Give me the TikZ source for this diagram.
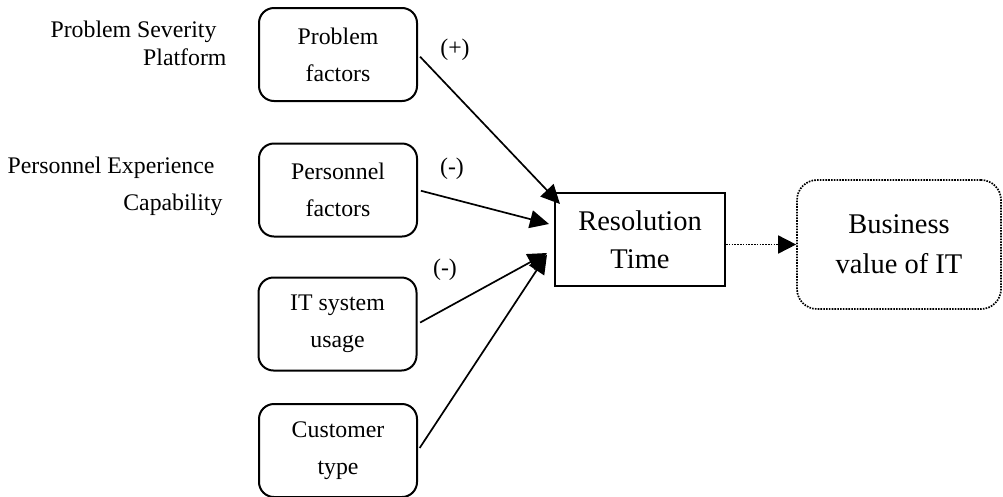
\documentclass[tikz,border=0pt]{standalone}
\usepackage{fontspec}
\setmainfont{Liberation Serif}
\usetikzlibrary{arrows.meta,calc,positioning}

\begin{document}
\begin{tikzpicture}[
    x=1pt, y=-1pt,
    factor/.style={rectangle, draw, line width=2pt, rounded corners=15pt, minimum width=158pt, minimum height=93pt, align=center, font=\fontsize{23.8}{37}\selectfont},
    outcome/.style={rectangle, draw, line width=2pt, minimum width=170pt, minimum height=93pt, align=center, font=\fontsize{28.5}{38}\selectfont},
    value/.style={rectangle, draw, line width=1.7pt, dash pattern=on 1.6pt off 1.2pt, rounded corners=20pt, minimum width=204pt, minimum height=129pt, align=center, font=\fontsize{28.5}{40}\selectfont},
    attr/.style={anchor=east, align=right, font=\fontsize{23.8}{28}\selectfont},
    sign/.style={font=\fontsize{23.8}{28}\selectfont},
    link/.style={-{Triangle[length=19pt,width=18pt]}, line width=1.7pt, shorten <=3pt},
    effect/.style={-{Triangle[length=18pt,width=18pt]}, line width=1.7pt, dash pattern=on 1.6pt off 1.2pt}
]
    \useasboundingbox (0,0) rectangle (1003,496);

    % Factors
    \node[factor] (problem) at (338, 54.5) {Problem\\factors};
    \node[factor] (personnel) at (338, 190) {Personnel\\factors};
    \node[factor] (itsystem) at (337.5, 324) {IT system\\usage};
    \node[factor] (customer) at (338, 450.5) {Customer\\type};

    % Attributes
    \node[attr] (problemattr) at (230, 43.5) {Problem Severity\hspace*{10pt}\\Platform};
    \node[attr, font=\fontsize{23.8}{37}\selectfont] (personnelattr) at (226, 186) {Personnel Experience\hspace*{8pt}\\Capability};

    % Resolution time
    \node[outcome] (restime) at (640, 239.5) {Resolution\\Time};

    % Business value
    \node[value] (bizvalue) at (899, 244.5) {Business\\value of IT};

    % Links
    \draw[link] (problem.east) -- ($(restime.north west)+(6,12)$);
    \draw[link] (personnel.east) -- ($(restime.west)+(-5,-15.5)$);
    \draw[link] (itsystem.east) -- ($(restime.west)+(-7,13.5)$);
    \draw[link] (customer.east) -- ($(restime.west)+(-7,15)$);
    \draw[effect] (restime.east |- bizvalue.west) -- (bizvalue.west);

    % Signs
    \node[sign] (signproblem) at (455, 50) {(+)};
    \node[sign] (signpersonnel) at (452, 169) {(-)};
    \node[sign] (signitsystem) at (445, 270) {(-)};
\end{tikzpicture}
\end{document}
